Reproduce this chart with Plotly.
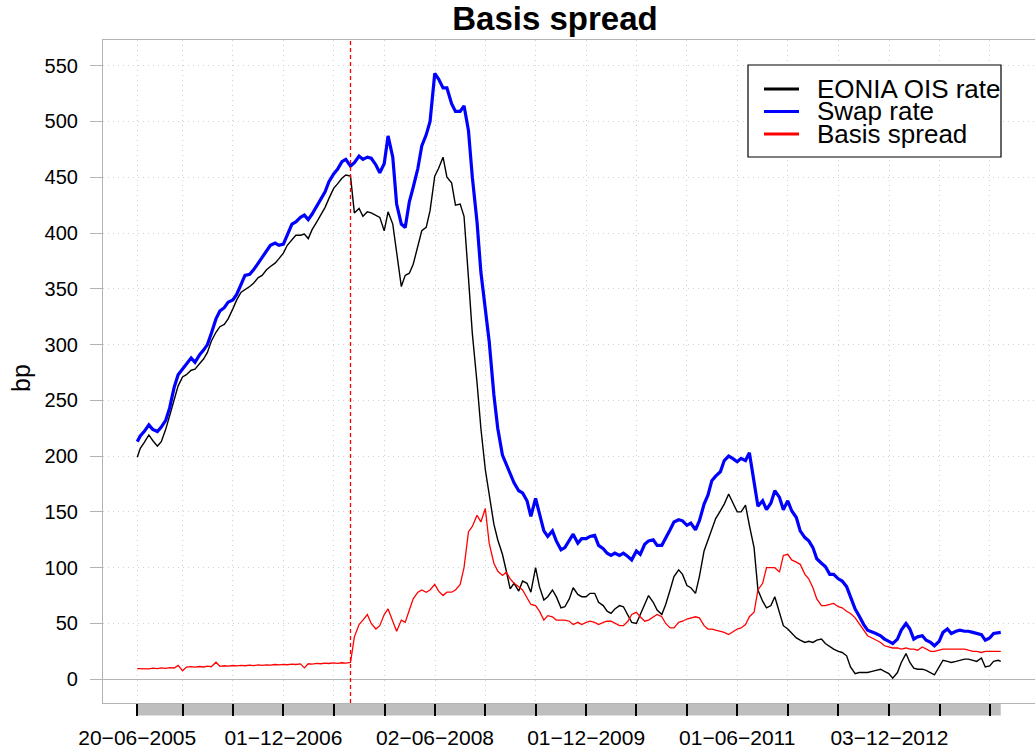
import pandas as pd
import plotly.graph_objects as go

FONT = "Liberation Sans, Arial, sans-serif"

# observation dates: first data day, then the 1st and 15th of every month, then last data day
dates = (
    ["2005-06-20"]
    + [d.strftime("%Y-%m-%d") for d in pd.date_range("2005-07-01", "2014-01-01", freq="SMS")]
    + ["2014-01-10"]
)

# values in bp (rows = half years, 1st/15th of each month)
eonia_ois = [
    199,
    207, 212, 219, 214, 209, 213, 224, 236, 252, 263, 271, 273,  # 2005 H2
    277, 278, 283, 287, 293, 303, 311, 316, 318, 323, 332, 340,  # 2006 H1
    347, 349, 352, 355, 360, 362, 367, 370, 373, 377, 382, 389,
    394, 398, 398, 399, 395, 403, 410, 416, 423, 431, 440, 444,  # 2007 H1
    449, 452, 451, 418, 422, 415, 419, 418, 416, 414, 402, 419,
    408, 382, 352, 362, 364, 372, 390, 402, 405, 420, 451, 458,  # 2008 H1
    468, 450, 445, 425, 426, 415, 360, 310, 266, 225, 188, 165,
    139, 125, 112, 97, 81, 86, 79, 88, 86, 78, 100, 83,  # 2009 H1
    71, 74, 80, 74, 64, 65, 72, 82, 76, 74, 74, 77,
    77, 69, 66, 61, 59, 63, 66, 65, 57, 51, 50, 58,  # 2010 H1
    66, 75, 69, 62, 58, 67, 80, 92, 98, 94, 84, 82,
    77, 92, 115, 125, 134, 144, 151, 157, 166, 158, 150, 150,  # 2011 H1
    156, 138, 118, 80, 70, 64, 66, 74, 60, 48, 45, 41,
    37, 35, 33, 34, 33, 35, 36, 32, 29, 27, 25, 24,  # 2012 H1
    21, 11, 5, 6, 6, 6, 7, 8, 9, 7, 5, 1,
    6, 15, 23, 15, 10, 9, 9, 8, 6, 4, 11, 17,  # 2013 H1
    16, 15, 16, 17, 18, 18, 17, 16, 19, 11, 12, 16,
    17, 16,
]

swap_rate = [
    213,
    218, 222, 228, 224, 222, 226, 232, 243, 262, 273, 278, 283,  # 2005 H2
    288, 284, 291, 295, 300, 310, 323, 330, 333, 338, 340, 345,  # 2006 H1
    355, 362, 363, 367, 373, 378, 383, 389, 391, 389, 390, 398,
    408, 410, 414, 416, 412, 417, 424, 430, 437, 446, 453, 457,  # 2007 H1
    464, 466, 460, 463, 469, 466, 468, 467, 461, 454, 462, 487,
    468, 426, 408, 405, 428, 441, 458, 478, 488, 500, 543, 538,  # 2008 H1
    530, 530, 516, 509, 509, 514, 492, 450, 410, 365, 332, 303,
    255, 225, 201, 193, 184, 176, 169, 167, 160, 146, 162, 147,  # 2009 H1
    133, 128, 133, 124, 116, 118, 125, 130, 122, 126, 126, 128,
    129, 120, 117, 113, 111, 113, 111, 113, 110, 107, 115, 112,  # 2010 H1
    121, 124, 125, 120, 120, 126, 134, 141, 143, 142, 138, 140,
    134, 142, 157, 165, 178, 182, 186, 196, 200, 198, 195, 198,  # 2011 H1
    196, 203, 175, 155, 160, 152, 158, 169, 163, 152, 160, 151,
    145, 133, 127, 124, 118, 108, 104, 101, 94, 94, 90, 88,  # 2012 H1
    83, 74, 63, 57, 49, 44, 42, 41, 39, 36, 34, 32,
    36, 44, 50, 45, 36, 38, 39, 35, 33, 30, 34, 42,  # 2013 H1
    45, 41, 43, 44, 43, 43, 42, 41, 40, 35, 37, 41,
    42, 42,
]

basis_spread = [
    9.6,
    9.4, 9.7, 9.3, 9.9, 9.5, 10.2, 9.8, 10.4, 10.1, 12.4, 7.6, 10.9,  # 2005 H2
    11.3, 10.8, 11.4, 11.0, 11.7, 11.2, 15.3, 11.6, 12.1, 11.7, 12.3, 11.9,  # 2006 H1
    12.4, 12.1, 12.6, 12.2, 12.8, 12.4, 12.9, 12.6, 13.2, 12.8, 13.3, 13.0,
    13.5, 13.2, 13.8, 10.2, 13.9, 13.6, 14.2, 13.9, 14.4, 14.1, 14.6, 14.3,  # 2007 H1
    14.8, 14.5, 15.0, 38, 49, 53, 58, 50, 45, 48, 58, 63,
    52, 43, 53, 51, 62, 72, 78, 80, 78, 80, 85, 79,  # 2008 H1
    75, 78, 78, 80, 85, 100, 132, 137, 147, 141, 153, 122,
    104, 97, 93, 96, 90, 86, 83, 80, 73, 67, 66, 61,  # 2009 H1
    53, 57, 56, 53, 53, 53, 52, 49, 51, 49, 51, 52,
    51, 49, 51, 52, 52, 50, 48, 48, 52, 58, 60, 56,  # 2010 H1
    52, 53, 56, 58, 56, 50, 46, 46, 51, 52, 54, 55,
    56, 55, 48, 45, 45, 44, 43, 42, 40, 42, 45, 46,  # 2011 H1
    49, 56, 60, 80, 86, 100, 100, 100, 96, 111, 112, 107,
    105, 103, 94, 90, 82, 72, 66, 66, 67, 68, 65, 64,  # 2012 H1
    61, 59, 55, 50, 44, 39, 37, 35, 33, 30, 29, 28,
    28, 27, 28, 27, 27, 26, 29, 27, 25, 25, 26, 27,  # 2013 H1
    27, 27, 27, 27, 27, 26, 25, 25, 24, 25, 25, 25,
    25, 25,
]

assert len(dates) == len(eonia_ois) == len(swap_rate) == len(basis_spread)

tick_dates = [
    "2005-06-20", "2005-12-01", "2006-06-01", "2006-12-01", "2007-06-01", "2007-12-03",
    "2008-06-02", "2008-12-01", "2009-06-01", "2009-12-01", "2010-06-01", "2010-12-01",
    "2011-06-01", "2011-12-01", "2012-06-01", "2012-12-03", "2013-06-03", "2013-12-02",
]
tick_labels = [
    "20−06−2005", "", "", "01−12−2006", "", "", "02−06−2008", "", "", "01−12−2009",
    "", "", "01−06−2011", "", "", "03−12−2012", "", "",
]
y_ticks = list(range(0, 551, 50))

crisis_date = "2007-08-01"

series_names = ["EONIA OIS rate", "Swap rate", "Basis spread"]
series_colors = ["black", "#0000ff", "#ff0000"]
series_widths = [1.4, 3.2, 1.3]

FIG_W, FIG_H = 1035, 751
# plot area in pixels
L, R, T, B = 103, 1035, 40, 703
W, H = R - L, B - T


def px_x(x):
    return (x - L) / W


def px_y(y):
    return (B - y) / H


fig = go.Figure()
for name, vals, col, lw in zip(series_names, [eonia_ois, swap_rate, basis_spread],
                               series_colors, series_widths):
    fig.add_trace(go.Scatter(x=dates, y=vals, mode="lines", name=name,
                             line=dict(color=col, width=lw), showlegend=False))

# grey band under the x axis spanning the data
fig.add_shape(type="rect", xref="x", yref="paper", x0=dates[0], x1=dates[-1],
              y0=-12.5 / H, y1=-1 / H, fillcolor="#bebebe", line_width=0, layer="below")

# crisis marker
fig.add_shape(type="line", xref="x", yref="paper", x0=crisis_date, x1=crisis_date,
              y0=0, y1=1, line=dict(color="#ff0000", width=1.3, dash="4px,3px"))

# legend drawn by hand (R style box)
fig.add_shape(type="rect", xref="paper", yref="paper",
              x0=px_x(748), x1=px_x(1001), y0=px_y(157), y1=px_y(65),
              line=dict(color="black", width=1.2), fillcolor="white")
for i, (name, col) in enumerate(zip(series_names, series_colors)):
    yy = 89 + i * 22.5
    fig.add_shape(type="line", xref="paper", yref="paper",
                  x0=px_x(764), x1=px_x(799), y0=px_y(yy), y1=px_y(yy),
                  line=dict(color=col, width=3))
    fig.add_annotation(text=name, xref="paper", yref="paper", x=px_x(815), y=px_y(yy),
                       xanchor="left", yanchor="middle", showarrow=False,
                       font=dict(family=FONT, size=26, color="black"))

fig.add_annotation(text="bp", xref="paper", yref="paper", x=px_x(21), y=px_y(378),
                   textangle=-90, showarrow=False, xanchor="center", yanchor="middle",
                   font=dict(family=FONT, size=25, color="black"))

fig.update_layout(
    width=FIG_W,
    height=FIG_H,
    margin=dict(l=L, r=FIG_W - R, t=T, b=FIG_H - B),
    paper_bgcolor="white",
    plot_bgcolor="white",
    title=dict(text="<b>Basis spread</b>", xref="container", yref="container",
               x=555 / FIG_W, y=1 - 18 / FIG_H, xanchor="center", yanchor="middle",
               font=dict(family=FONT, size=33, color="black")),
    font=dict(family=FONT, color="black"),
    showlegend=False,
)

fig.update_xaxes(
    type="date",
    range=["2005-02-16", "2014-05-14"],
    tickmode="array",
    tickvals=tick_dates,
    ticktext=tick_labels,
    ticks="outside",
    ticklen=12,
    tickwidth=1.5,
    tickcolor="black",
    ticklabelstandoff=4,
    tickfont=dict(family=FONT, size=21, color="black"),
    showgrid=True,
    gridcolor="#d0d0d0",
    griddash="1px,4px",
    showline=True,
    linecolor="#b3b3b3",
    linewidth=1.2,
    mirror=True,
    zeroline=False,
)

fig.update_yaxes(
    range=[-21.3, 573],
    tickmode="array",
    tickvals=y_ticks,
    ticks="outside",
    ticklen=12,
    tickcolor="#b3b3b3",
    tickwidth=1.2,
    ticklabelstandoff=8,
    tickfont=dict(family=FONT, size=20, color="black"),
    showgrid=True,
    gridcolor="#d0d0d0",
    griddash="1px,4px",
    showline=True,
    linecolor="#b3b3b3",
    linewidth=1.2,
    mirror=True,
    zeroline=True,
    zerolinecolor="#b3b3b3",
    zerolinewidth=1.2,
)

# drop the browser's default page margin so the figure sits at the window's corner
fig.write_html("out.html", config={"displayModeBar": False},
               post_script="document.body.style.margin = '0px';")
